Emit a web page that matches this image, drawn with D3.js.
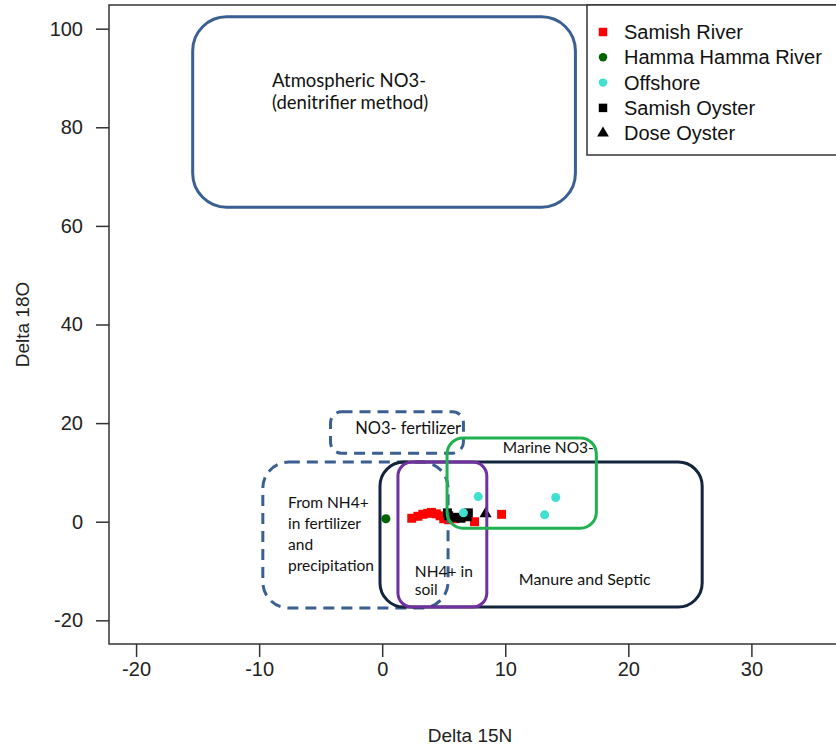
<!DOCTYPE html>
<html>
<head>
<meta charset="utf-8">
<script src="https://cdn.jsdelivr.net/npm/d3@7"></script>
<style>
  body { margin: 0; background: #fff; }
  svg { display: block; }
</style>
</head>
<body>
<svg id="chart" width="836" height="750"></svg>
<script>
// isotope data, delta 15N (x) and delta 18O (y)
const samishRiver = [
    [2.4, 0.7], [2.9, 1.1], [3.3, 1.5], [3.7, 1.7], [4.0, 1.9], [4.4, 1.6],
    [4.7, 1.2], [5.0, 0.6], [5.4, 0.4], [5.9, 0.6], [7.5, 0.0], [9.7, 1.5]
]
const hammaRiver = [[0.3, 0.6]]
const offshore = [[6.6, 1.8], [7.8, 5.1], [14.1, 4.9], [13.2, 1.4]]
const samishOyster = [[5.3, 1.8], [5.4, 1.2], [5.9, 0.9], [6.4, 0.7], [6.9, 1.0], [7.0, 1.8]]
const doseOyster = [[8.4, 1.6]]

const xTicks = [-20, -10, 0, 10, 20, 30]
const yTicks = [-20, 0, 20, 40, 60, 80, 100]

// source regions pasted over the plot (x0, x1, y0, y1 in data units)
const regions = [
    { name: "atmos", box: [-15.4, 15.7, 63.8, 102.4], color: "#3b5f90", dash: null, r: 34 },
    { name: "no3fert", box: [-4.2, 6.6, 13.9, 22.3], color: "#3b5f90", dash: "11,7", r: 11 },
    { name: "nh4fert", box: [-9.7, 5.35, -17.5, 12.1], color: "#3b5f90", dash: "11,7", r: 26 },
    { name: "manure", box: [-0.18, 26.0, -17.3, 12.1], color: "#13253d", dash: null, r: 24 },
    { name: "soil", box: [1.28, 8.5, -17.3, 12.1], color: "#7030a0", dash: null, r: 14 },
    { name: "marine", box: [5.27, 17.4, -1.3, 17.0], color: "#1fb04f", dash: null, r: 16 }
]
const regionLabels = [
    { lines: ["Atmospheric NO3-", "(denitrifier method)"], x: -8.95, y: 88.2, size: 18.5, lead: 22 },
    { lines: ["NO3- fertilizer"], x: -2.2, y: 17.7, size: 16.5, lead: 20 },
    { lines: ["From NH4+", "in fertilizer", "and", "precipitation"], x: -7.65, y: 2.7, size: 15.5, lead: 21 },
    { lines: ["NH4+ in", "soil"], x: 2.65, y: -11.2, size: 15.5, lead: 18 },
    { lines: ["Manure and Septic"], x: 11.1, y: -12.9, size: 16, lead: 20 },
    { lines: ["Marine NO3-"], x: 9.8, y: 14.0, size: 15.5, lead: 20 }
]

const legendItems = [
    { label: "Samish River", color: "#ff0000", shape: "square" },
    { label: "Hamma Hamma River", color: "#006400", shape: "circle" },
    { label: "Offshore", color: "#40e0d0", shape: "circle" },
    { label: "Samish Oyster", color: "#000000", shape: "square" },
    { label: "Dose Oyster", color: "#000000", shape: "triangle" }
]

const svg = d3.select("#chart")
const axisFont = "'Liberation Sans', Arial, sans-serif"
const noteFont = "Lato, 'Open Sans', sans-serif"

const xScale = d3.scaleLinear().domain([-22.2, 39.8]).range([109, 872])
const yScale = d3.scaleLinear().domain([-24.8, 104.8]).range([644, 5])

svg.append("rect")
    .attr("width", 836).attr("height", 750).attr("fill", "white")

// x axis
const xAxis = svg.append("g")
    .attr("transform", `translate(0,${yScale(-24.8)})`)
    .call(d3.axisBottom(xScale).tickValues(xTicks).tickSize(13).tickPadding(5)
        .tickFormat((d) => String(d)))
xAxis.select(".domain").remove()
xAxis.selectAll("line").attr("stroke", "#333").attr("stroke-width", 1.5)
xAxis.selectAll("text")
    .attr("font-family", axisFont).attr("font-size", 20).attr("fill", "#222")

// y axis
const yAxis = svg.append("g")
    .attr("transform", `translate(${xScale(-22.2)},0)`)
    .call(d3.axisLeft(yScale).tickValues(yTicks).tickSize(13).tickPadding(13)
        .tickFormat((d) => String(d)))
yAxis.select(".domain").remove()
yAxis.selectAll("line").attr("stroke", "#333").attr("stroke-width", 1.5)
yAxis.selectAll("text")
    .attr("font-family", axisFont).attr("font-size", 20).attr("fill", "#222")

// plot frame
svg.append("rect")
    .attr("x", xScale(-22.2))
    .attr("y", yScale(104.8))
    .attr("width", xScale(39.8) - xScale(-22.2))
    .attr("height", yScale(-24.8) - yScale(104.8))
    .attr("fill", "none")
    .attr("stroke", "#333")
    .attr("stroke-width", 1.5)

svg.append("text")
    .attr("x", 470).attr("y", 742)
    .attr("text-anchor", "middle")
    .attr("font-family", axisFont).attr("font-size", 19).attr("fill", "#222")
    .text("Delta 15N")

svg.append("text")
    .attr("transform", `translate(29,${yScale(40)}) rotate(-90)`)
    .attr("text-anchor", "middle")
    .attr("font-family", axisFont).attr("font-size", 19).attr("fill", "#222")
    .text("Delta 18O")

// points
const sq = d3.symbol().type(d3.symbolSquare).size(80)
const circ = d3.symbol().type(d3.symbolCircle).size(64)
const tri = d3.symbol().type(d3.symbolTriangle).size(64)

const pts = svg.append("g")
pts.selectAll(".samish-river")
    .data(samishRiver).enter()
    .append("path")
    .attr("d", sq)
    .attr("transform", (d) => `translate(${xScale(d[0])},${yScale(d[1])})`)
    .attr("fill", "#ff0000")
pts.selectAll(".hamma")
    .data(hammaRiver).enter()
    .append("path")
    .attr("d", circ)
    .attr("transform", (d) => `translate(${xScale(d[0])},${yScale(d[1])})`)
    .attr("fill", "#006400")
pts.selectAll(".samish-oyster")
    .data(samishOyster).enter()
    .append("path")
    .attr("d", sq)
    .attr("transform", (d) => `translate(${xScale(d[0])},${yScale(d[1])})`)
    .attr("fill", "#000")
pts.selectAll(".offshore")
    .data(offshore).enter()
    .append("path")
    .attr("d", circ)
    .attr("transform", (d) => `translate(${xScale(d[0])},${yScale(d[1])})`)
    .attr("fill", "#40e0d0")
pts.selectAll(".dose")
    .data(doseOyster).enter()
    .append("path")
    .attr("d", tri)
    .attr("transform", (d) => `translate(${xScale(d[0])},${yScale(d[1])})`)
    .attr("fill", "#000")

// region boxes
svg.append("g").selectAll("rect")
    .data(regions).enter()
    .append("rect")
    .attr("x", (d) => xScale(d.box[0]))
    .attr("y", (d) => yScale(d.box[3]))
    .attr("width", (d) => xScale(d.box[1]) - xScale(d.box[0]))
    .attr("height", (d) => yScale(d.box[2]) - yScale(d.box[3]))
    .attr("rx", (d) => d.r).attr("ry", (d) => d.r)
    .attr("fill", "none")
    .attr("stroke", (d) => d.color)
    .attr("stroke-width", 3)
    .attr("stroke-dasharray", (d) => d.dash)

regionLabels.forEach((lab) => {
    const t = svg.append("text")
        .attr("x", xScale(lab.x))
        .attr("y", yScale(lab.y))
        .attr("font-family", noteFont)
        .attr("font-size", lab.size)
        .attr("fill", "#111")
    lab.lines.forEach((line, i) => {
        t.append("tspan")
            .attr("x", xScale(lab.x))
            .attr("dy", i === 0 ? 0 : lab.lead)
            .text(line)
    })
})

// legend, top right like R
const legend = svg.append("g")
legend.append("rect")
    .attr("x", 587).attr("y", yScale(104.8))
    .attr("width", 270).attr("height", 150)
    .attr("fill", "white")
    .attr("stroke", "#333").attr("stroke-width", 1.5)

const legendRow = legend.selectAll(".legend-row")
    .data(legendItems).enter()
    .append("g")
    .attr("transform", (d, i) => `translate(603,${32 + i * 25.3})`)
legendRow.append("path")
    .attr("d", (d) => d.shape === "square" ? d3.symbol().type(d3.symbolSquare).size(72)()
        : d.shape === "circle" ? d3.symbol().type(d3.symbolCircle).size(56)()
        : d3.symbol().type(d3.symbolTriangle).size(60)())
    .attr("fill", (d) => d.color)
legendRow.append("text")
    .attr("x", 21).attr("y", 7)
    .attr("font-family", axisFont).attr("font-size", 20).attr("fill", "#111")
    .text((d) => d.label)
</script>
</body>
</html>
